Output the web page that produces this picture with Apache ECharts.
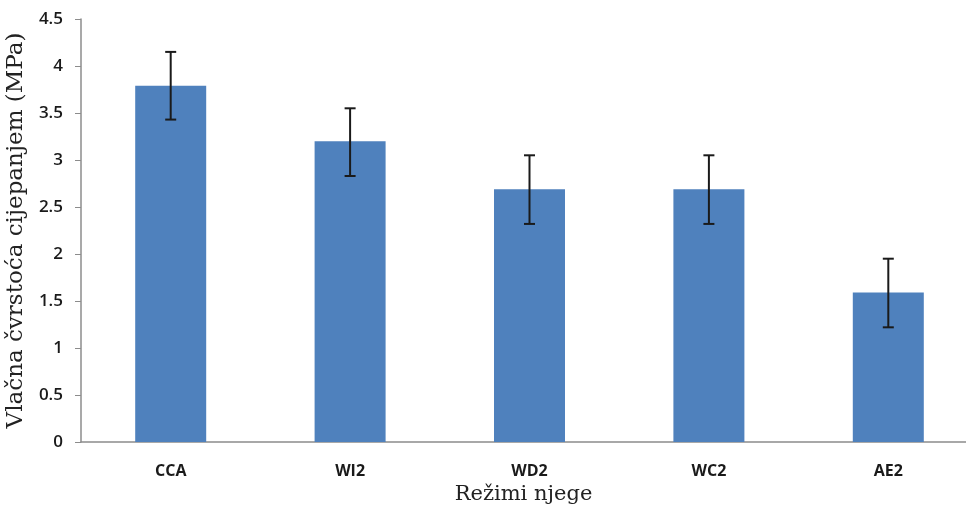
<!DOCTYPE html>
<html>
<head>
<meta charset="utf-8">
<script src="https://cdn.jsdelivr.net/npm/echarts@6/dist/echarts.min.js"></script>
<style>html,body{margin:0;padding:0;background:#fff;}#c{width:966px;height:510px;}</style>
</head>
<body>
<div id="c"></div>
<script>
const categories = ['CCA', 'WI2', 'WD2', 'WC2', 'AE2'];
const values = [3.79, 3.2, 2.69, 2.69, 1.59];
const errLow = [3.43, 2.83, 2.32, 2.32, 1.22];
const errHigh = [4.15, 3.55, 3.05, 3.05, 1.95];
const yTicks = [0, 0.5, 1, 1.5, 2, 2.5, 3, 3.5, 4, 4.5];

const chart = echarts.init(document.getElementById('c'));
const errData = categories.map((c, i) => [i, errLow[i], errHigh[i]]);
chart.setOption({
  animation: false,
  grid: { left: 81, top: 19, bottom: 68, width: 897, outerBoundsMode: 'none', containLabel: false },
  xAxis: {
    type: 'category',
    data: categories,
    name: 'Režimi njege',
    nameLocation: 'middle',
    nameGap: 40,
    nameTextStyle: { fontFamily: 'DejaVu Serif', fontSize: 21, color: '#222', padding: [0, 12, 0, 0] },
    axisLine: { lineStyle: { color: '#8c8c8c', width: 1.5 } },
    axisTick: { show: false },
    axisLabel: { margin: 21, fontFamily: 'Open Sans', fontWeight: 700, fontSize: 16, color: '#1a1a1a' }
  },
  yAxis: {
    type: 'value',
    min: 0, max: 4.5, interval: 0.5,
    name: 'Vlačna čvrstoća cijepanjem (MPa)',
    nameLocation: 'middle',
    nameGap: 47,
    nameTextStyle: { fontFamily: 'DejaVu Serif', fontSize: 23, color: '#222' },
    splitLine: { show: false },
    axisLine: { show: true, lineStyle: { color: '#8c8c8c', width: 1.5 } },
    axisTick: { show: true, length: 6, lineStyle: { color: '#8c8c8c' } },
    axisLabel: {
      margin: 18, fontFamily: 'Open Sans', fontWeight: 600, fontSize: 17, color: '#1a1a1a',
      formatter: v => String(yTicks.find(t => Math.abs(t - v) < 1e-9) ?? v)
    }
  },
  series: [
    {
      type: 'bar',
      data: values,
      barWidth: 71,
      itemStyle: { color: '#4F81BD' }
    },
    {
      type: 'custom',
      data: errData,
      z: 10,
      renderItem: function (params, api) {
        const x = api.value(0);
        const lo = api.coord([x, api.value(1)]);
        const hi = api.coord([x, api.value(2)]);
        const hw = 5.5;
        const style = { stroke: '#1a1a1a', lineWidth: 2 };
        return {
          type: 'group',
          children: [
            { type: 'line', shape: { x1: lo[0], y1: lo[1], x2: hi[0], y2: hi[1] }, style },
            { type: 'line', shape: { x1: lo[0] - hw, y1: lo[1], x2: lo[0] + hw, y2: lo[1] }, style },
            { type: 'line', shape: { x1: hi[0] - hw, y1: hi[1], x2: hi[0] + hw, y2: hi[1] }, style }
          ]
        };
      }
    }
  ]
});
</script>
</body>
</html>
